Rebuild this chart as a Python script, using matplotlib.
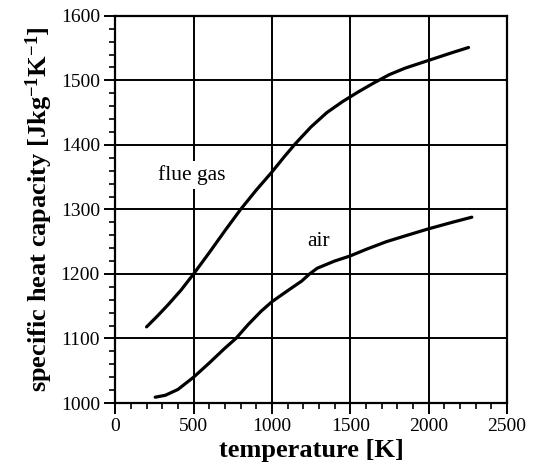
import matplotlib
matplotlib.use("Agg")
import matplotlib.pyplot as plt
from matplotlib.ticker import MultipleLocator

plt.rcParams['font.family'] = ['Liberation Serif', 'DejaVu Serif']
plt.rcParams['mathtext.fontset'] = 'custom'
plt.rcParams['mathtext.rm'] = 'Liberation Serif:bold'
plt.rcParams['mathtext.bf'] = 'Liberation Serif:bold'
plt.rcParams['mathtext.default'] = 'bf'

# data
flue_T = [200, 270, 340, 420, 500, 600, 700, 800, 900, 1000, 1080, 1150, 1250,
          1350, 1450, 1550, 1650, 1750, 1850, 1950, 2050, 2150, 2255]
flue_cp = [1118, 1135, 1153, 1175, 1200, 1233, 1267, 1300, 1330, 1358, 1382, 1402, 1428,
           1450, 1467, 1482, 1496, 1509, 1519, 1527, 1535, 1543, 1551]
air_T = [255, 320, 400, 500, 600, 700, 770, 850, 930, 1000, 1100, 1190, 1240, 1290,
         1400, 1500, 1600, 1730, 1850, 2000, 2150, 2276]
air_cp = [1009, 1012, 1021, 1040, 1062, 1085, 1100, 1122, 1142, 1157, 1174, 1189, 1200, 1209,
          1220, 1228, 1238, 1250, 1259, 1270, 1280, 1288]

x_ticks = [0, 500, 1000, 1500, 2000, 2500]
y_ticks = [1000, 1100, 1200, 1300, 1400, 1500, 1600]

fig = plt.figure(figsize=(5.41, 4.67), dpi=100)
ax = fig.add_axes([0.213, 0.137, 0.724, 0.829])

ax.plot(flue_T, flue_cp, color='black', lw=2.3, solid_capstyle='round', solid_joinstyle='round')
ax.plot(air_T, air_cp, color='black', lw=2.3, solid_capstyle='round', solid_joinstyle='round')

ax.set_xlim(0, 2500)
ax.set_ylim(1000, 1600)
ax.set_xticks(x_ticks)
ax.set_yticks(y_ticks)
ax.xaxis.set_minor_locator(MultipleLocator(100))
ax.yaxis.set_minor_locator(MultipleLocator(20))
ax.grid(True, which='major', color='black', lw=1.4)
ax.set_axisbelow(True)
for s in ax.spines.values():
    s.set_linewidth(1.6)
ax.tick_params(which='major', direction='out', length=8, width=1.4, labelsize=14, pad=3)
ax.tick_params(which='minor', direction='out', length=4, width=1.2)

ax.text(490, 1353, 'flue gas', fontsize=15.5, ha='center', va='center', zorder=5,
        bbox=dict(facecolor='white', edgecolor='none', pad=3))
ax.text(1300, 1250, 'air', fontsize=15.5, ha='center', va='center', zorder=5)

ax.set_xlabel('temperature [K]', fontsize=19, fontweight='bold', labelpad=3)
ax.set_ylabel('specific heat capacity [Jkg$^{-1}$K$^{-1}$]', fontsize=19, fontweight='bold', labelpad=4)

fig.savefig('out.png', dpi=100)
